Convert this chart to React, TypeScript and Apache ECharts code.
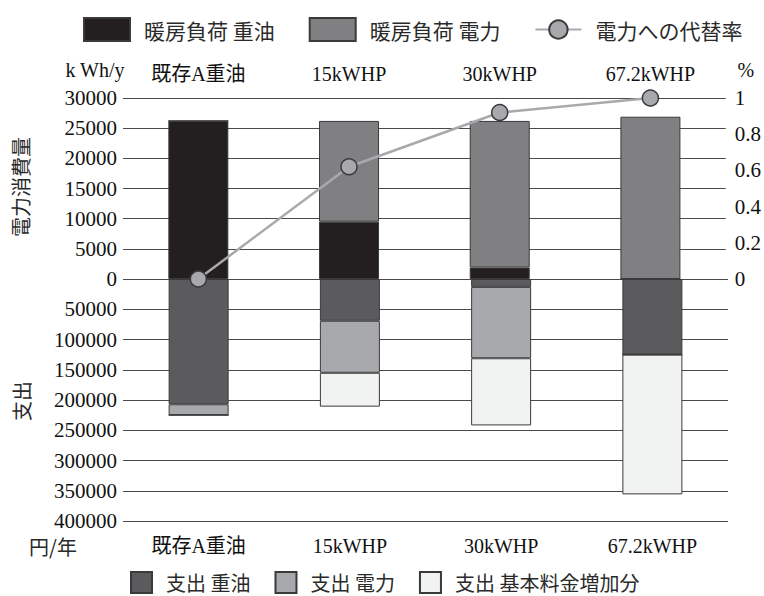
import React, { useEffect, useRef } from "react";
import * as echarts from "echarts";

const categories = ["既存A重油", "15kWHP", "30kWHP", "67.2kWHP"];
const heatOil = [26200, 9500, 1900, 0];
const heatElec = [0, 16700, 24300, 26900];
const replaceRate = [0, 0.62, 0.92, 1.0];
const costOil = [207000, 69000, 13000, 125000];
const costElec = [18000, 86000, 118000, 0];
const costBase = [0, 56000, 111000, 231000];

const SERIF = "'Liberation Serif', 'Noto Sans CJK JP', serif";
const SANS = "'Noto Sans CJK JP', sans-serif";

const plain = (v: number) => String(v);

export default function App() {
  const ref = useRef<HTMLDivElement>(null);
  useEffect(() => {
    if (!ref.current) return;
    const chart = echarts.init(ref.current, undefined, { renderer: "svg" });
    const border = { borderColor: "#3a3a3a", borderWidth: 1 };
    const splitLine = { show: true, lineStyle: { color: "#4a4a4a", width: 1.2 } };
    chart.setOption({
      animation: false,
      backgroundColor: "#ffffff",
      grid: [
        { left: 123, right: 36, top: 98, height: 181 },
        { left: 123, right: 36, top: 279, height: 242 },
      ],
      legend: [
        {
          data: [
            { name: "暖房負荷 重油", icon: "rect" },
            { name: "暖房負荷 電力", icon: "rect" },
            { name: "電力への代替率" },
          ],
          left: 78,
          top: 12,
          itemWidth: 46,
          itemHeight: 23,
          itemGap: 34,
          textStyle: { fontSize: 21, fontFamily: SANS, color: "#2a2a2a", padding: [0, 0, 0, 9] },
        },
        {
          data: [
            { name: "支出 重油", icon: "rect" },
            { name: "支出 電力", icon: "rect" },
            { name: "支出 基本料金増加分", icon: "rect" },
          ],
          left: 125,
          top: 566,
          itemWidth: 21,
          itemHeight: 21,
          itemGap: 24,
          textStyle: { fontSize: 20, fontFamily: SANS, color: "#2a2a2a", padding: [0, 0, 0, 9] },
        },
      ],
      xAxis: [
        {
          type: "category",
          gridIndex: 0,
          data: categories,
          position: "top",
          axisLine: { show: false },
          axisTick: { show: false },
          axisLabel: { fontSize: 20, fontFamily: SERIF, color: "#111", margin: 14 },
        },
        {
          type: "category",
          gridIndex: 1,
          data: categories,
          position: "bottom",
          axisLine: { show: false },
          axisTick: { show: false },
          axisLabel: { fontSize: 20, fontFamily: SERIF, color: "#111", margin: 15 },
        },
      ],
      yAxis: [
        {
          type: "value",
          gridIndex: 0,
          min: 0,
          max: 30000,
          interval: 5000,
          name: "k Wh/y",
          nameLocation: "end",
          nameGap: 18,
          nameTextStyle: { fontSize: 20, fontFamily: SERIF, color: "#111", align: "center", padding: [0, 0, 0, -56] },
          axisLine: { show: false },
          axisTick: { show: false },
          axisLabel: { fontSize: 21, fontFamily: SERIF, color: "#111", margin: 6, formatter: plain },
          splitLine,
        },
        {
          type: "value",
          gridIndex: 0,
          position: "right",
          min: 0,
          max: 1,
          interval: 0.2,
          name: "%",
          nameLocation: "end",
          nameGap: 18,
          nameTextStyle: { fontSize: 20, fontFamily: SERIF, color: "#111", align: "center", padding: [0, 0, 0, 40] },
          axisLine: { show: false },
          axisTick: { show: false },
          axisLabel: { fontSize: 21, fontFamily: SERIF, color: "#111", margin: 9, formatter: plain },
          splitLine: { show: false },
        },
        {
          type: "value",
          gridIndex: 1,
          inverse: true,
          min: 0,
          max: 400000,
          interval: 50000,
          axisLine: { show: false },
          axisTick: { show: false },
          axisLabel: { fontSize: 21, fontFamily: SERIF, color: "#111", margin: 6, showMinLabel: false, formatter: plain },
          splitLine,
        },
      ],
      graphic: [
        {
          type: "text",
          x: 20,
          y: 187,
          rotation: Math.PI / 2,
          style: { text: "電力消費量", fontSize: 20, fontFamily: SANS, fill: "#2a2a2a", align: "center", verticalAlign: "middle" },
        },
        {
          type: "text",
          x: 21,
          y: 401,
          rotation: Math.PI / 2,
          style: { text: "支出", fontSize: 20, fontFamily: SANS, fill: "#2a2a2a", align: "center", verticalAlign: "middle" },
        },
        {
          type: "text",
          x: 53,
          y: 546,
          style: { text: "円/年", fontSize: 20, fontFamily: SANS, fill: "#2a2a2a", align: "center", verticalAlign: "middle" },
        },
      ],
      series: [
        {
          name: "暖房負荷 重油",
          type: "bar",
          xAxisIndex: 0,
          yAxisIndex: 0,
          stack: "energy",
          barWidth: 60,
          data: heatOil,
          itemStyle: { color: "#231f20", ...border },
        },
        {
          name: "暖房負荷 電力",
          type: "bar",
          xAxisIndex: 0,
          yAxisIndex: 0,
          stack: "energy",
          barWidth: 60,
          data: heatElec,
          itemStyle: { color: "#808083", ...border },
        },
        {
          name: "支出 重油",
          type: "bar",
          xAxisIndex: 1,
          yAxisIndex: 2,
          stack: "cost",
          barWidth: 60,
          data: costOil,
          itemStyle: { color: "#5b5b5e", ...border },
        },
        {
          name: "支出 電力",
          type: "bar",
          xAxisIndex: 1,
          yAxisIndex: 2,
          stack: "cost",
          barWidth: 60,
          data: costElec,
          itemStyle: { color: "#a7a9ac", ...border },
        },
        {
          name: "支出 基本料金増加分",
          type: "bar",
          xAxisIndex: 1,
          yAxisIndex: 2,
          stack: "cost",
          barWidth: 60,
          data: costBase,
          itemStyle: { color: "#f1f2f2", ...border },
        },
        {
          name: "電力への代替率",
          type: "line",
          xAxisIndex: 0,
          yAxisIndex: 1,
          data: replaceRate,
          clip: false,
          z: 10,
          symbol: "circle",
          symbolSize: 16,
          lineStyle: { color: "#a7a9ac", width: 2.5 },
          itemStyle: { color: "#a7a9ac", borderColor: "#3a3a3a", borderWidth: 1.5 },
        },
      ],
    });
    return () => chart.dispose();
  }, []);
  return (
    <div
      ref={ref}
      style={{ position: "fixed", left: 0, top: 0, width: 764, height: 596, background: "#fff" }}
    />
  );
}
